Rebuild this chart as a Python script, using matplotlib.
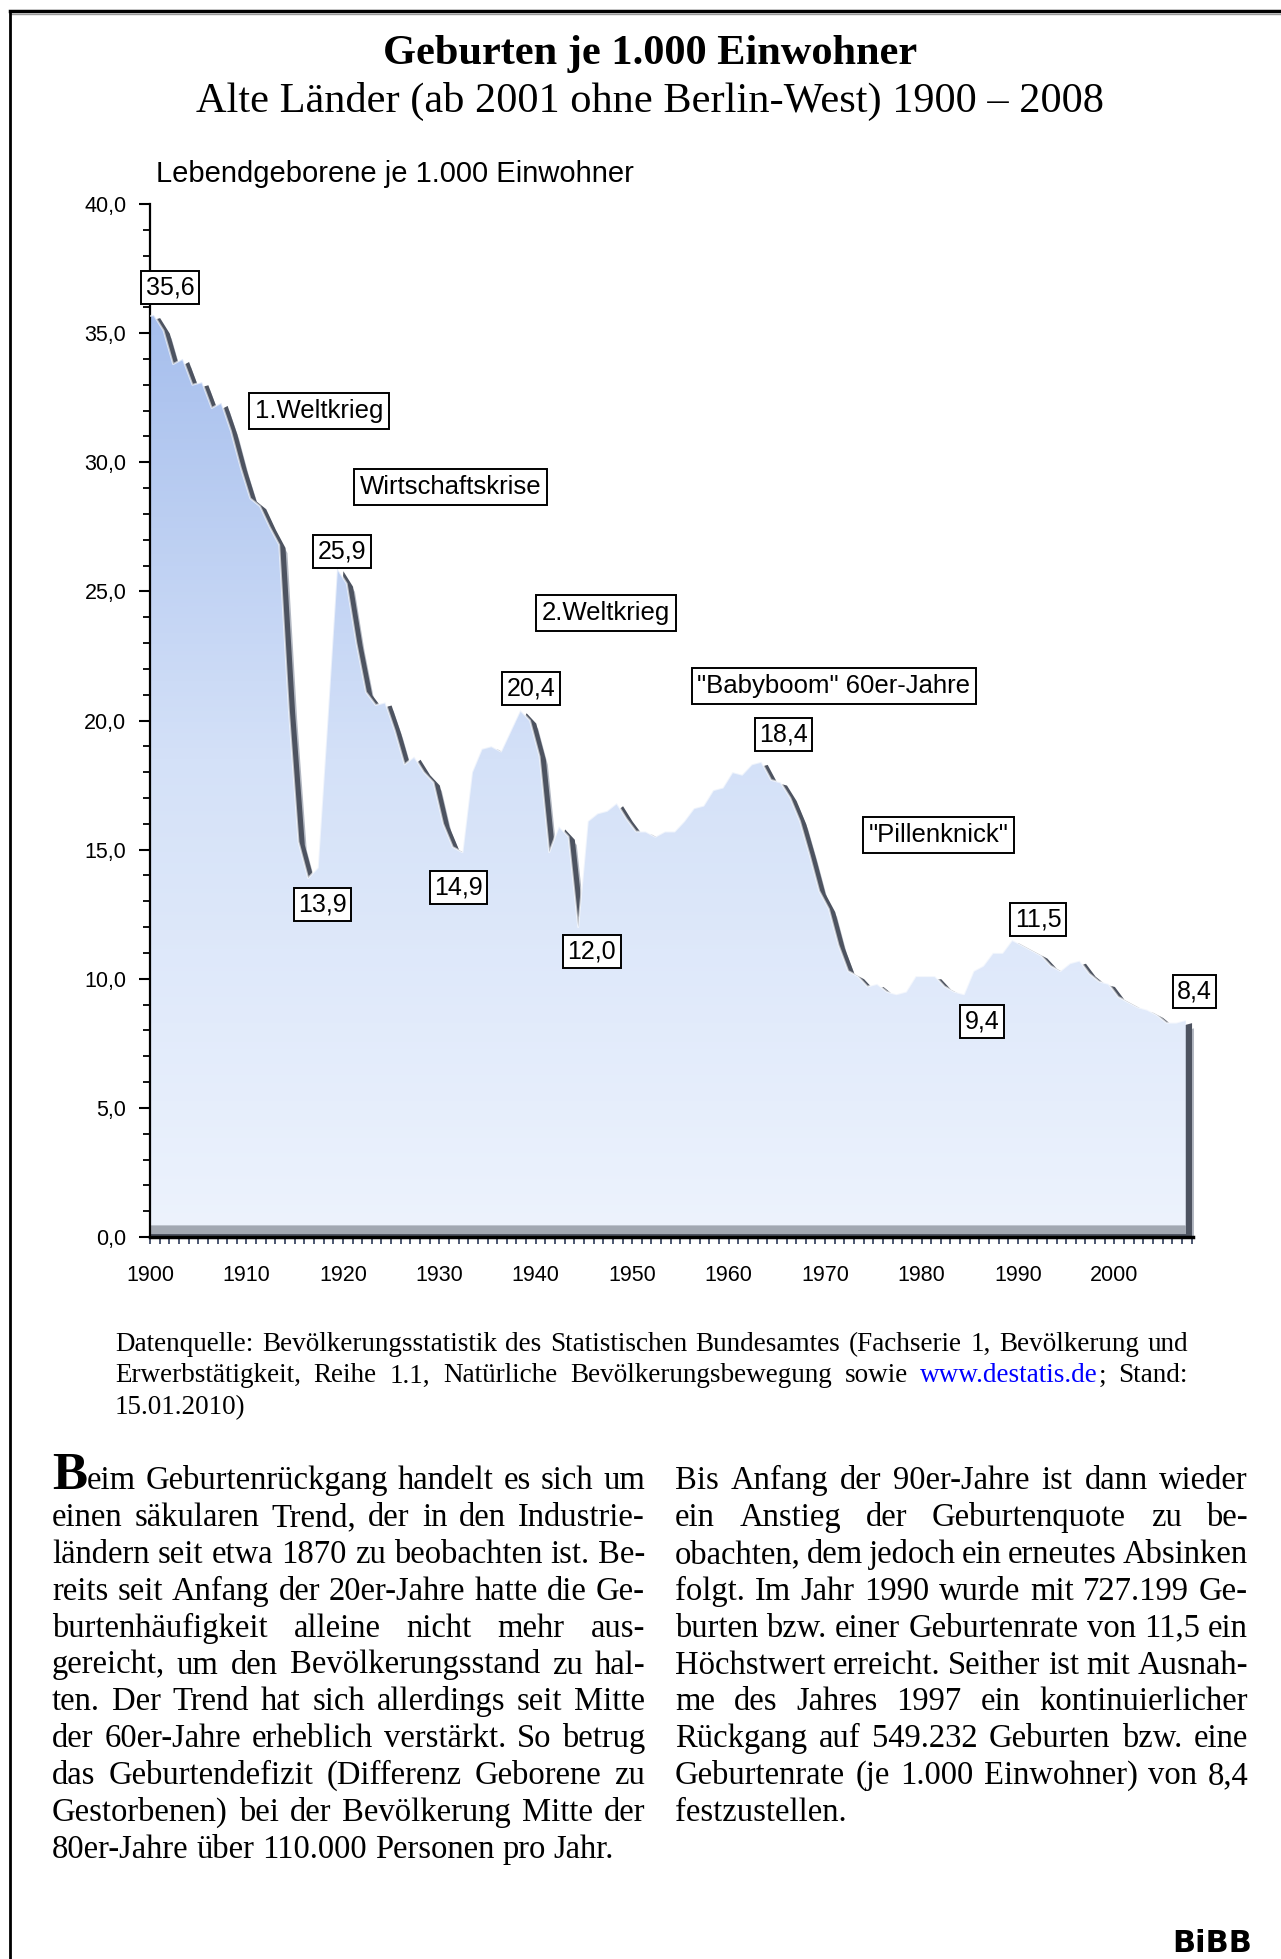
import matplotlib.pyplot as plt
import numpy as np
from matplotlib.colors import LinearSegmentedColormap
from matplotlib.lines import Line2D
from matplotlib.ticker import FixedLocator, MultipleLocator

# Lebendgeborene je 1.000 Einwohner, alte Laender 1900-2008
years = np.arange(1900, 2009)
birth_rate = [
    35.6, 35.7, 35.1, 33.8, 34.0, 33.0, 33.1, 32.1, 32.3, 31.2,   # 1900
    29.8, 28.6, 28.3, 27.5, 26.8, 20.4, 15.3, 13.9, 14.3, 20.0,   # 1910
    25.9, 25.3, 23.0, 21.1, 20.6, 20.7, 19.6, 18.3, 18.6, 18.0,   # 1920
    17.6, 16.0, 15.1, 14.9, 18.0, 18.9, 19.0, 18.8, 19.6, 20.4,   # 1930
    20.0, 18.6, 14.9, 15.9, 15.5, 12.0, 16.1, 16.4, 16.5, 16.8,   # 1940
    16.2, 15.7, 15.7, 15.5, 15.7, 15.7, 16.1, 16.6, 16.7, 17.3,   # 1950
    17.4, 18.0, 17.9, 18.3, 18.4, 17.7, 17.6, 17.0, 16.1, 14.8,   # 1960
    13.4, 12.7, 11.3, 10.3, 10.1, 9.7, 9.8, 9.5, 9.4, 9.5,        # 1970
    10.1, 10.1, 10.1, 9.7, 9.5, 9.4, 10.3, 10.5, 11.0, 11.0,      # 1980
    11.5, 11.3, 11.1, 10.9, 10.5, 10.3, 10.6, 10.7, 10.2, 9.9,    # 1990
    9.8, 9.3, 9.1, 8.9, 8.8, 8.6, 8.3, 8.3, 8.4,                  # 2000
]

# labelled data points and where their boxes sit (offset in data units)
label_years = [1900, 1920, 1939, 1964, 1917, 1933, 1945, 1990, 1985, 2008]
label_dx = [2.1, -0.1, 0.5, 1.7, 0.9, -1.0, 0.8, 2.1, 1.3, 0.3]
label_dy = [1.15, 0.66, 0.82, 1.04, -1.01, -1.35, -0.93, 0.81, -1.07, 1.09]

events = ['1.Weltkrieg', 'Wirtschaftskrise', '2.Weltkrieg',
          '"Babyboom" 60er-Jahre', '"Pillenknick"']
event_x = [1917.5, 1931.2, 1947.3, 1970.9, 1981.8]
event_y = [31.98, 29.04, 24.16, 21.34, 15.57]

y_ticks = [0, 5, 10, 15, 20, 25, 30, 35, 40]
x_ticks = list(range(1900, 2001, 10))

title = 'Geburten je 1.000 Einwohner'
subtitle = 'Alte Länder (ab 2001 ohne Berlin-West) 1900 – 2008'
ylabel = 'Lebendgeborene je 1.000 Einwohner'

source_lines = [
    'Datenquelle: Bevölkerungsstatistik des Statistischen Bundesamtes (Fachserie 1, Bevölkerung und',
    'Erwerbstätigkeit, Reihe 1.1, Natürliche Bevölkerungsbewegung sowie www.destatis.de; Stand:',
    '15.01.2010)',
]
left_lines = [
    'Beim Geburtenrückgang handelt es sich um',
    'einen säkularen Trend, der in den Industrie-',
    'ländern seit etwa 1870 zu beobachten ist. Be-',
    'reits seit Anfang der 20er-Jahre hatte die Ge-',
    'burtenhäufigkeit alleine nicht mehr aus-',
    'gereicht, um den Bevölkerungsstand zu hal-',
    'ten. Der Trend hat sich allerdings seit Mitte',
    'der 60er-Jahre erheblich verstärkt. So betrug',
    'das Geburtendefizit (Differenz Geborene zu',
    'Gestorbenen) bei der Bevölkerung Mitte der',
    '80er-Jahre über 110.000 Personen pro Jahr.',
]
right_lines = [
    'Bis Anfang der 90er-Jahre ist dann wieder',
    'ein Anstieg der Geburtenquote zu be-',
    'obachten, dem jedoch ein erneutes Absinken',
    'folgt. Im Jahr 1990 wurde mit 727.199 Ge-',
    'burten bzw. einer Geburtenrate von 11,5 ein',
    'Höchstwert erreicht. Seither ist mit Ausnah-',
    'me des Jahres 1997 ein kontinuierlicher',
    'Rückgang auf 549.232 Geburten bzw. eine',
    'Geburtenrate (je 1.000 Einwohner) von 8,4',
    'festzustellen.',
]

W, H = 1281, 1959
fig = plt.figure(figsize=(W / 100, H / 100), dpi=100)
fig.patch.set_facecolor('white')

def fx(px):
    return px / W

def fy(py):
    return 1 - py / H

# frame lines (left and top only)
fig.add_artist(Line2D([fx(10), fx(W)], [fy(11), fy(11)], color='black', lw=2.5))
fig.add_artist(Line2D([fx(10), fx(W)], [fy(14), fy(14)], color='#999999', lw=1))
fig.add_artist(Line2D([fx(10), fx(10)], [fy(11), fy(H)], color='black', lw=2))

serif = 'Liberation Serif'
sans = 'Liberation Sans'

fig.text(fx(650), fy(64), title, ha='center', va='baseline', family=serif,
         fontsize=30.5, fontweight='bold')
fig.text(fx(650), fy(112), subtitle, ha='center', va='baseline', family=serif,
         fontsize=30.5)
fig.text(fx(156), fy(182), ylabel, ha='left', va='baseline', family=sans, fontsize=21)

# ---- chart ----
ax = fig.add_axes([fx(150), fy(1237), fx(1193) - fx(150), fy(204) - fy(1237)])
rate = np.array(birth_rate)
shift = 0.6

# shadow body of the 3-D area
ax.fill_between(years + 0.2, rate - 0.3, 0, color='#b3b8c2', lw=0, zorder=1)
ax.fill_between(years, rate - 0.1, 0, color='#4d5360', lw=0, zorder=1.5)
ax.fill_between(years - shift, 0.45, 0.12, color='#a2a8b2', lw=0, zorder=1.8)

# front face with vertical gradient
front = ax.fill_between(years - shift, rate, 0.45, facecolor='none', lw=0, zorder=2)
cmap = LinearSegmentedColormap.from_list('fill', ['#edf3fd', '#d4e1f8', '#a3bcec'])
grad = np.linspace(0, 1, 256).reshape(-1, 1)
im = ax.imshow(grad, extent=(1898, 2010, 0, 37), origin='lower', cmap=cmap,
               aspect='auto', zorder=2, interpolation='bicubic')
im.set_clip_path(front.get_paths()[0], transform=ax.transData)
ax.plot(years - shift, rate, color='white', lw=1.4, alpha=0.6, zorder=3)

ax.set_xlim(1900, 2008.15)
ax.set_ylim(0, 40)

for sp in ['top', 'right']:
    ax.spines[sp].set_visible(False)
ax.spines['left'].set_linewidth(1.6)
ax.spines['bottom'].set_linewidth(2.5)
ax.set_facecolor('none')

ax.yaxis.set_major_locator(FixedLocator(y_ticks))
ax.set_yticklabels([f'{t:.1f}'.replace('.', ',') for t in y_ticks])
ax.yaxis.set_minor_locator(MultipleLocator(1))
ax.tick_params(axis='y', which='major', direction='out', length=8, width=1.5,
               labelsize=15.5, pad=9)
ax.tick_params(axis='y', which='minor', direction='out', length=5, width=1.3)

ax.xaxis.set_major_locator(FixedLocator(x_ticks))
ax.set_xticklabels([str(x) for x in x_ticks])
ax.xaxis.set_minor_locator(MultipleLocator(1))
ax.tick_params(axis='x', which='both', direction='out', length=5, width=1.1,
               color='#1c2a4a', labelsize=15.5, pad=15)
for lab in ax.get_xticklabels() + ax.get_yticklabels():
    lab.set_family(sans)

box = dict(boxstyle='square,pad=0.18', facecolor='white', edgecolor='black', lw=1.4)
for yr, dx, dy in zip(label_years, label_dx, label_dy):
    v = birth_rate[yr - years[0]]
    ax.text(yr + dx, v + dy, f'{v:.1f}'.replace('.', ','), ha='center', va='center',
            family=sans, fontsize=18, bbox=box, zorder=5, clip_on=False)
for txt, x, y in zip(events, event_x, event_y):
    ax.text(x, y, txt, ha='center', va='center', family=sans, fontsize=18.5,
            bbox=dict(boxstyle='square,pad=0.22', facecolor='white',
                      edgecolor='black', lw=1.4), zorder=5)

# ---- justified text blocks ----
renderer = fig.canvas.get_renderer()

def seg_width(s, props):
    t = fig.text(0, 0, s, **props)
    w = t.get_window_extent(renderer).width
    t.remove()
    return w

def place_line(words, x0, x1, y, justify, space):
    widths = [sum(seg_width(s, p) for s, p in w) for w in words]
    if justify and len(words) > 1:
        gap = (x1 - x0 - sum(widths)) / (len(words) - 1)
    else:
        gap = space
    x = x0
    for w, wd in zip(words, widths):
        xx = x
        for s, p in w:
            fig.text(fx(xx), fy(y), s, ha='left', va='baseline', **p)
            xx += seg_width(s, p)
        x += wd + gap

src = dict(family=serif, fontsize=19.5, color='black')
link = dict(family=serif, fontsize=19.5, color='#0000ff')
for i, line in enumerate(source_lines):
    words = []
    for w in line.split():
        if w.startswith('www.'):
            words.append([(w[:-1], link), (w[-1], src)])
        else:
            words.append([(w, src)])
    place_line(words, 115, 1188, 1351 + i * 31.5, i < len(source_lines) - 1, 6)

body = dict(family=serif, fontsize=23.5, color='black')
drop = dict(family=serif, fontsize=38, fontweight='bold', color='black')
for col, (lines, x0, x1) in enumerate([(left_lines, 52, 645), (right_lines, 675, 1248)]):
    for i, line in enumerate(lines):
        words = []
        for j, w in enumerate(line.split()):
            if col == 0 and i == 0 and j == 0:
                words.append([(w[0], drop), (w[1:], body)])
            else:
                words.append([(w, body)])
        place_line(words, x0, x1, 1489 + i * 36.9, i < len(lines) - 1, 8)

fig.text(fx(1172), fy(1952), 'BiBB', ha='left', va='baseline', family='DejaVu Sans',
         fontsize=22, fontweight='bold', color='black')

fig.savefig('out.png', dpi=100)
